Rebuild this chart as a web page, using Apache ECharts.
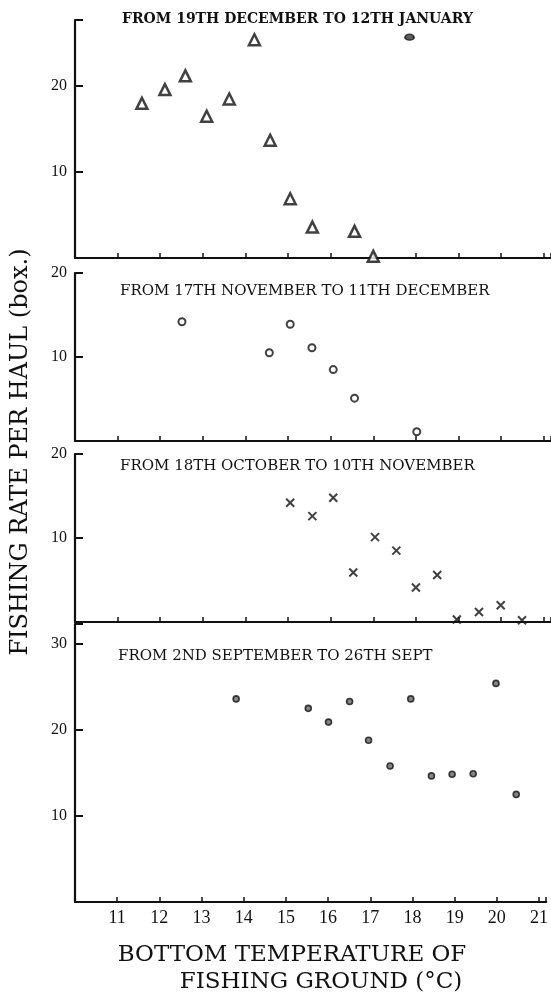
<!DOCTYPE html>
<html>
<head>
<meta charset="utf-8">
<script src="https://cdn.jsdelivr.net/npm/echarts@6/dist/echarts.min.js"></script>
<style>
html, body { margin: 0; padding: 0; background: #fff; }
#main { width: 551px; height: 995px; }
</style>
</head>
<body>
<div id="main"></div>
<script>
var dom = document.getElementById("main");
var myChart = echarts.init(dom);

// panel titles
var panelTitles = [
    'FROM 19TH DECEMBER TO 12TH JANUARY',
    'FROM 17TH NOVEMBER TO 11TH DECEMBER',
    'FROM 18TH OCTOBER TO 10TH NOVEMBER',
    'FROM 2ND SEPTEMBER TO 26TH SEPT'
];

// 19 Dec - 12 Jan (triangles)
var decTemp = [11.57, 12.11, 12.59, 13.09, 13.62, 14.21, 14.58, 15.05, 15.57, 16.56, 17.0];
var decRate = [18.0, 19.6, 21.2, 16.5, 18.5, 25.4, 13.7, 6.9, 3.6, 3.1, 0.2];
var decOddTemp = [17.85];
var decOddRate = [25.7];

// 17 Nov - 11 Dec (open circles)
var novTemp = [12.51, 14.56, 15.05, 15.56, 16.06, 16.56, 18.02];
var novRate = [14.2, 10.5, 13.9, 11.1, 8.5, 5.1, 1.1];

// 18 Oct - 10 Nov (crosses)
var octTemp = [15.05, 15.57, 16.06, 16.53, 17.04, 17.54, 18.0, 18.5, 18.96, 19.48, 19.99, 20.49];
var octRate = [14.2, 12.6, 14.8, 5.9, 10.1, 8.5, 4.1, 5.6, 0.3, 1.2, 2.0, 0.2];

// 2 Sept - 26 Sept (dots)
var sepTemp = [13.82, 15.53, 16.01, 16.51, 16.96, 17.47, 17.96, 18.45, 18.94, 19.44, 19.98, 20.46];
var sepRate = [23.6, 22.5, 20.9, 23.3, 18.8, 15.8, 23.6, 14.65, 14.85, 14.9, 25.4, 12.5];

var yMax = [27.7, 20, 20, 32.3];
var xTicks = [11, 12, 13, 14, 15, 16, 17, 18, 19, 20, 21];

function zip(xs, ys) {
    return xs.map(function (x, i) { return [x, ys[i]]; });
}

var ink = '#111';
var serif = 'DejaVu Serif';

var grids = [
    {left: 75, width: 476, top: 20, height: 238},
    {left: 75, width: 476, top: 273, height: 168},
    {left: 75, width: 476, top: 454, height: 168},
    {left: 75, width: 476, top: 624, height: 278}
];

var xAxes = grids.map(function (g, i) {
    return {
        type: 'value',
        gridIndex: i,
        min: 10,
        max: 21.17,
        interval: 1,
        splitLine: {show: false},
        axisLine: {onZero: false, lineStyle: {color: ink, width: 2.2}},
        axisTick: {show: true, inside: true, length: 5, lineStyle: {color: ink, width: 1.5}},
        axisLabel: {
            show: i === 3,
            margin: 7,
            color: '#111',
            fontFamily: 'Liberation Serif',
            fontSize: 18,
            formatter: function (v) { return xTicks.indexOf(v) >= 0 ? v : ''; }
        }
    };
});

var yAxes = grids.map(function (g, i) {
    return {
        type: 'value',
        gridIndex: i,
        min: 0,
        max: yMax[i],
        interval: 10,
        splitLine: {show: false},
        axisLine: {onZero: false, lineStyle: {color: ink, width: 2.2}},
        axisTick: {show: true, inside: true, length: 8, lineStyle: {color: ink, width: 2}},
        axisLabel: {
            margin: 8,
            color: '#111',
            fontFamily: 'Liberation Serif',
            fontSize: 16,
            formatter: function (v) { return (v > 0 && v % 10 === 0) ? v : ''; }
        }
    };
});

var titleTops = [12, 284, 459, 649];
var titleLefts = [122, 120, 120, 118];
var titles = panelTitles.map(function (t, i) {
    return {
        text: t,
        left: titleLefts[i],
        top: titleTops[i],
        padding: 0,
        textStyle: {
            fontFamily: serif,
            fontSize: i === 0 ? 14 : 15,
            fontWeight: i === 0 ? 'bold' : 'normal',
            color: '#111'
        }
    };
});

option = {
    animation: false,
    backgroundColor: '#fff',
    title: titles,
    grid: grids,
    xAxis: xAxes,
    yAxis: yAxes,
    graphic: [
        {
            type: 'text',
            x: 21, y: 452,
            rotation: Math.PI / 2,
            style: {
                text: 'FISHING RATE PER HAUL (box.)',
                font: '24px "DejaVu Serif"',
                fill: '#111',
                textAlign: 'center',
                textVerticalAlign: 'middle'
            }
        },
        {
            type: 'text',
            x: 292, y: 955,
            style: {
                text: 'BOTTOM TEMPERATURE OF',
                font: '23px "DejaVu Serif"',
                fill: '#111',
                textAlign: 'center',
                textVerticalAlign: 'middle'
            }
        },
        {
            type: 'text',
            x: 321, y: 982,
            style: {
                text: 'FISHING GROUND (°C)',
                font: '23px "DejaVu Serif"',
                fill: '#111',
                textAlign: 'center',
                textVerticalAlign: 'middle'
            }
        }
    ],
    series: [
        {
            type: 'scatter', xAxisIndex: 0, yAxisIndex: 0,
            symbol: 'triangle', symbolSize: 11,
            itemStyle: {color: '#fff', borderColor: ink, borderWidth: 2.5},
            data: zip(decTemp, decRate)
        },
        {
            type: 'scatter', xAxisIndex: 0, yAxisIndex: 0,
            symbol: 'circle', symbolSize: [9, 6],
            itemStyle: {color: '#333', borderColor: ink, borderWidth: 1.5},
            data: zip(decOddTemp, decOddRate)
        },
        {
            type: 'scatter', xAxisIndex: 1, yAxisIndex: 1,
            symbol: 'circle', symbolSize: 7,
            itemStyle: {color: '#fff', borderColor: ink, borderWidth: 2},
            data: zip(novTemp, novRate)
        },
        {
            type: 'scatter', xAxisIndex: 2, yAxisIndex: 2,
            symbol: 'path://M0,0L10,10M10,0L0,10', symbolSize: 8,
            itemStyle: {color: 'none', borderColor: ink, borderWidth: 2},
            data: zip(octTemp, octRate)
        },
        {
            type: 'scatter', xAxisIndex: 3, yAxisIndex: 3,
            symbol: 'circle', symbolSize: 6,
            itemStyle: {color: '#666', borderColor: ink, borderWidth: 1.6},
            data: zip(sepTemp, sepRate)
        }
    ]
};

if (option && typeof option === "object") {
    myChart.setOption(option, true);
}
</script>
</body>
</html>
